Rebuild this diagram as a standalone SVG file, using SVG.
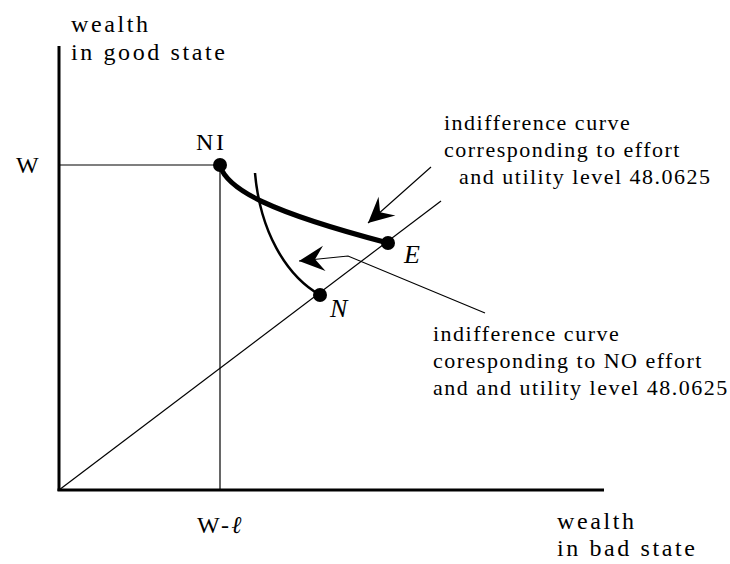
<svg xmlns="http://www.w3.org/2000/svg" width="730" height="564" viewBox="0 0 730 564">
<style>
text{font-family:'Liberation Serif','Times New Roman',serif;fill:#000}
.ax{font-size:24px;letter-spacing:2.6px}
.lb{font-size:22px;letter-spacing:1.5px}
.it{font-style:italic;font-size:26px}
.thin{fill:none;stroke:#000;stroke-width:1.2}
.axis{fill:none;stroke:#000;stroke-width:3}
</style>
<defs>
<marker id="ah" markerUnits="userSpaceOnUse" markerWidth="30" markerHeight="30" viewBox="-24 -12 26 24" refX="0" refY="0" orient="auto">
<path d="M0,0 L-22,-11 L-14,0 L-22,11 Z" fill="#000"/>
</marker>
</defs>
<g id="axes">
<line class="axis" x1="59" y1="46" x2="59" y2="491"/>
<line class="axis" x1="57.5" y1="490" x2="604" y2="490"/>
</g>
<g id="guides">
<line class="thin" x1="59" y1="165" x2="220" y2="165"/>
<line class="thin" x1="220" y1="165" x2="220" y2="490"/>
<line class="thin" x1="59" y1="490" x2="441" y2="201"/>
</g>
<g id="curves">
<path d="M220,166 C228,190 270,212 388,243" fill="none" stroke="#000" stroke-width="5"/>
<path d="M255,173 C260,230 285,275 320,295" fill="none" stroke="#000" stroke-width="2.5"/>
</g>
<g id="node-NI"><circle cx="220" cy="165" r="7"/><text class="ax" x="196" y="150">NI</text></g>
<g id="node-E"><circle cx="388" cy="243" r="7"/><text class="it" x="404" y="263">E</text></g>
<g id="node-N"><circle cx="320" cy="295" r="7"/><text class="it" x="330" y="317">N</text></g>
<g id="connectors">
<line class="thin" x1="431" y1="167" x2="368" y2="223" marker-end="url(#ah)"/>
<polyline class="thin" points="485,313 348,256 299,261" marker-end="url(#ah)"/>
</g>
<g id="labels">
<text class="ax" x="71" y="32">wealth</text>
<text class="ax" x="71" y="60">in good state</text>
<text class="ax" x="16" y="173">W</text>
<text class="ax" x="197" y="533">W-<tspan font-style="italic">ℓ</tspan></text>
<text class="ax" x="557" y="529">wealth</text>
<text class="ax" x="557" y="556">in bad state</text>
</g>
<g id="label-effort">
<text class="lb" x="444" y="130">indifference curve</text>
<text class="lb" x="444" y="157">corresponding to effort</text>
<text class="lb" x="459" y="184">and utility level 48.0625</text>
</g>
<g id="label-noeffort">
<text class="lb" x="433" y="341">indifference curve</text>
<text class="lb" x="433" y="368">coresponding to NO effort</text>
<text class="lb" x="433" y="395">and and utility level 48.0625</text>
</g>
</svg>
